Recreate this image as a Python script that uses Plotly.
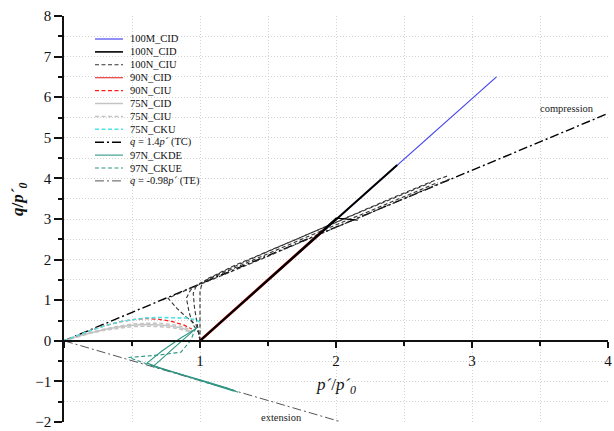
import plotly.graph_objects as go

# ---- data -------------------------------------------------------------
TC_SLOPE = 1.4      # compression failure line  q = 1.4 p'
TE_SLOPE = -0.98    # extension failure line    q = -0.98 p'
p_tc = [0.0, 4.0]
p_te = [0.0, 2.04]

p_100M_CID = [1.0, 3.18]
q_100M_CID = [0.0, 6.5]

p_100N_CID = [1.0, 2.45]
q_100N_CID = [0.0, 4.33]
p_100N_CID_b = [1.0, 2.0, 2.16]
q_100N_CID_b = [0.0, 3.02, 2.97]

p_100N_CIU = [
    [1.0, 0.99, 0.97, 0.90, 0.83, 0.765, 0.9, 1.1, 1.4, 1.7, 2.0, 2.3, 2.6, 2.85],
    [1.0, 0.99, 0.95, 0.92, 0.90, 0.93, 1.0, 1.2, 1.5, 1.8, 2.1, 2.4, 2.7, 2.82],
    [1.0, 0.99, 0.98, 0.96, 0.95, 0.97, 1.03, 1.3, 1.6, 1.9, 2.2, 2.5, 2.75],
    [1.0, 1.0, 1.0, 1.0, 1.01, 1.05, 1.25, 1.55, 1.85, 2.15, 2.45, 2.7],
]
q_100N_CIU = [
    [0.0, 0.2, 0.4, 0.58, 0.8, 1.05, 1.25, 1.52, 1.94, 2.37, 2.80, 3.23, 3.66, 4.0],
    [0.0, 0.2, 0.39, 0.7, 1.05, 1.25, 1.42, 1.75, 2.2, 2.64, 3.07, 3.5, 3.92, 4.06],
    [0.0, 0.2, 0.39, 0.8, 1.17, 1.33, 1.47, 1.86, 2.3, 2.72, 3.13, 3.55, 3.9],
    [0.0, 0.4, 0.8, 1.2, 1.35, 1.52, 1.85, 2.28, 2.71, 3.13, 3.55, 3.9],
]

p_90N_CID = [1.0, 1.9]
q_90N_CID = [0.0, 2.7]

p_90N_CIU = [0.0, 0.1, 0.2, 0.3, 0.4, 0.5, 0.6, 0.7, 0.8, 0.88, 0.94]
q_90N_CIU = [0.0, 0.13, 0.26, 0.37, 0.46, 0.52, 0.55, 0.53, 0.47, 0.39, 0.29]

p_75N = [0.0, 0.1, 0.2, 0.3, 0.4, 0.5, 0.6, 0.7, 0.8, 0.88, 0.94]
q_75N_CID = [0.0, 0.11, 0.20, 0.28, 0.34, 0.38, 0.40, 0.39, 0.36, 0.30, 0.22]
q_75N_CIU = [
    [0.0, 0.11, 0.21, 0.29, 0.36, 0.41, 0.43, 0.43, 0.40, 0.34, 0.25],
    [0.0, 0.10, 0.19, 0.26, 0.31, 0.35, 0.36, 0.35, 0.32, 0.27, 0.20],
]

p_75N_CKU = [0.0, 0.1, 0.2, 0.3, 0.4, 0.5, 0.6, 0.7, 0.8, 0.9, 0.97, 1.0]
q_75N_CKU = [0.0, 0.13, 0.26, 0.37, 0.46, 0.52, 0.56, 0.575, 0.575, 0.56, 0.52, 0.46]

p_97N_CKDE = [
    [0.98, 0.90, 0.80, 0.70, 0.655, 0.75, 0.90, 1.05, 1.20, 1.28],
    [0.97, 0.85, 0.72, 0.61, 0.70, 0.85, 1.0, 1.15, 1.25],
]
q_97N_CKDE = [
    [0.33, 0.10, -0.20, -0.50, -0.63, -0.72, -0.86, -1.01, -1.16, -1.27],
    [0.30, 0.05, -0.25, -0.55, -0.66, -0.82, -0.98, -1.13, -1.24],
]
p_97N_CKUE = [0.97, 0.93, 0.86, 0.70, 0.475, 0.60, 0.75, 0.90, 1.05, 1.20, 1.27]
q_97N_CKUE = [0.32, 0.0, -0.28, -0.35, -0.41, -0.56, -0.72, -0.88, -1.03, -1.17, -1.24]

legend_labels = ["100M_CID", "100N_CID", "100N_CIU", "90N_CID", "90N_CIU", "75N_CID",
                 "75N_CIU", "75N_CKU", "<i>q</i> = 1.4<i>p´</i> (TC)", "97N_CKDE",
                 "97N_CKUE", "<i>q</i> = -0.98<i>p´</i> (TE)"]

# ---- styles ------------------------------------------------------------
SERIF = "Liberation Serif, Times New Roman, serif"
DASH = "4px,2.5px"
DASHDOT = "9px,3px,2px,3px"
styles = [
    dict(color="#4646ee", width=1.2, dash="solid"),
    dict(color="#000000", width=2.0, dash="solid"),
    dict(color="#333333", width=1.1, dash=DASH),
    dict(color="#ee3a3a", width=1.2, dash="solid"),
    dict(color="#ff1a1a", width=1.3, dash=DASH),
    dict(color="#c4c4c4", width=1.5, dash="solid"),
    dict(color="#c4c4c4", width=1.5, dash=DASH),
    dict(color="#4fe3e3", width=1.6, dash=DASH),
    dict(color="#000000", width=1.4, dash=DASHDOT),
    dict(color="#2f9684", width=1.1, dash="solid"),
    dict(color="#2f9684", width=1.1, dash=DASH),
    dict(color="#555555", width=1.0, dash=DASHDOT),
]

fig = go.Figure()


def add(p, q, st):
    fig.add_trace(go.Scatter(x=p, y=q, mode="lines", line=st,
                             showlegend=False, hoverinfo="skip"))


add(p_tc, [TC_SLOPE * v for v in p_tc], styles[8])
add(p_te, [TE_SLOPE * v for v in p_te], styles[11])
for ps, qs in zip(p_100N_CIU, q_100N_CIU):
    add(ps, qs, styles[2])
for qs in q_75N_CIU:
    add(p_75N, qs, styles[6])
add(p_75N, q_75N_CID, styles[5])
add(p_90N_CIU, q_90N_CIU, styles[4])
add(p_75N_CKU, q_75N_CKU, styles[7])
for ps, qs in zip(p_97N_CKDE, q_97N_CKDE):
    add(ps, qs, styles[9])
add(p_97N_CKUE, q_97N_CKUE, styles[10])
add(p_100M_CID, q_100M_CID, styles[0])
add(p_90N_CID, q_90N_CID, dict(color="#e02020", width=2.8))
add(p_100N_CID, q_100N_CID, styles[1])
add(p_100N_CID_b, q_100N_CID_b, dict(color="#000000", width=1.2))

# ---- hand-built legend (compact rows) ------------------------------------
X0, X1 = 64.0, 608.3     # plot area in px
Y_TOP, Y_BOT = 16.0, 422.0


def px(xp):
    return (xp - X0) / (X1 - X0)


def py(yp):
    return (Y_BOT - yp) / (Y_BOT - Y_TOP)


shapes = []
annotations = []
for i, (lab, st) in enumerate(zip(legend_labels, styles)):
    yy = 39.0 + 12.9 * i
    shapes.append(dict(type="line", xref="paper", yref="paper",
                       x0=px(95), x1=px(123), y0=py(yy), y1=py(yy),
                       line=dict(color=st["color"], width=min(st["width"], 1.6),
                                 dash=st["dash"])))
    annotations.append(dict(xref="paper", yref="paper", x=px(128), y=py(yy),
                            text=lab, showarrow=False, xanchor="left",
                            yanchor="middle",
                            font=dict(family=SERIF, size=10.5, color="#111111")))

annotations += [
    dict(x=3.70, y=5.72, xref="x", yref="y", text="compression", showarrow=False,
         font=dict(family=SERIF, size=10.5, color="#222222")),
    dict(x=1.60, y=-1.90, xref="x", yref="y", text="extension", showarrow=False,
         font=dict(family=SERIF, size=10.5, color="#222222")),
    dict(x=2.0, y=py(386), xref="x", yref="paper", xanchor="center", yanchor="middle",
         text="<i>p´</i>/<i>p´</i><sub><i>0</i></sub>", showarrow=False,
         font=dict(family=SERIF, size=17, color="#111111")),
    dict(x=px(19), y=py(200), xref="paper", yref="paper", textangle=-90,
         xanchor="center", yanchor="middle",
         text="<b><i>q</i>/<i>p´</i><sub><i>0</i></sub></b>", showarrow=False,
         font=dict(family=SERIF, size=17, color="#111111")),
]

tickfont = dict(family=SERIF, size=15, color="#111111")
grid = dict(showgrid=True, gridcolor="#d2d2d2", gridwidth=1, griddash="1px,2px")

fig.update_layout(
    width=614, height=431,
    margin=dict(l=X0, r=614 - X1, t=Y_TOP, b=431 - Y_BOT, autoexpand=False),
    paper_bgcolor="white", plot_bgcolor="white",
    showlegend=False,
    font=dict(family=SERIF),
    shapes=shapes, annotations=annotations,
    xaxis=dict(range=[0, 4], tickvals=[0, 1, 2, 3, 4],
               ticktext=["", "1", "2", "3", "4"],
               ticks="outside", ticklen=6, tickwidth=1.5, tickcolor="#111111",
               showline=True, linecolor="#111111", linewidth=1.5,
               anchor="free", position=0.2, zeroline=False,
               tickfont=tickfont, automargin=False,
               minor=dict(dtick=0.5, tick0=0, ticks="outside", ticklen=4,
                          tickwidth=1.5, tickcolor="#111111", **grid),
               **grid),
    yaxis=dict(range=[-2, 8], dtick=1, tick0=0,
               ticks="outside", ticklen=8, tickwidth=1.5, tickcolor="#111111",
               showline=True, linecolor="#111111", linewidth=1.5,
               zeroline=False, tickfont=tickfont, automargin=False,
               minor=dict(dtick=0.5, tick0=0, ticks="outside", ticklen=4,
                          tickwidth=1.5, tickcolor="#111111", **grid),
               **grid),
)

fig.write_html("out.html")
